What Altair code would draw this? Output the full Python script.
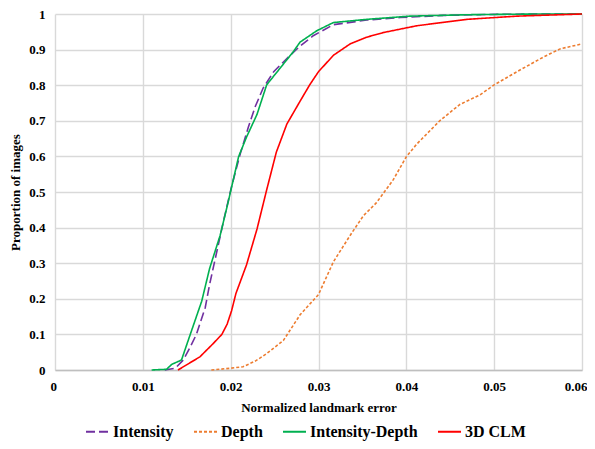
import altair as alt
import pandas as pd

series_names = ["Intensity", "Depth", "Intensity-Depth", "3D CLM"]
series_colors = ["#7030A0", "#ED7D31", "#00B050", "#FF0000"]

intensity_x = [0.0125, 0.0137, 0.0146, 0.0153, 0.0161, 0.0171, 0.0176, 0.0184, 0.0192, 0.0201,
               0.0211, 0.0220, 0.0228, 0.0237, 0.0249, 0.0264, 0.0279, 0.0294, 0.0317, 0.0355,
               0.0393, 0.0442, 0.0500, 0.0550, 0.0600]
intensity_y = [0.0, 0.005, 0.028, 0.06, 0.10, 0.175, 0.24, 0.33, 0.42, 0.515,
               0.608, 0.681, 0.74, 0.792, 0.838, 0.875, 0.91, 0.939, 0.97, 0.983,
               0.99, 0.996, 0.999, 1.0, 1.0]

depth_x = [0.0178, 0.0200, 0.0214, 0.0228, 0.0241, 0.0260, 0.0279, 0.0300, 0.0317, 0.0336,
           0.0351, 0.0366, 0.0385, 0.0400, 0.0412, 0.0438, 0.0461, 0.0484, 0.0500, 0.0526,
           0.0556, 0.0575, 0.0600]
depth_y = [0.0, 0.005, 0.009, 0.025, 0.046, 0.083, 0.155, 0.212, 0.304, 0.378,
           0.433, 0.47, 0.534, 0.599, 0.635, 0.70, 0.746, 0.773, 0.801, 0.838,
           0.879, 0.902, 0.916]

intdepth_x = [0.0110, 0.0127, 0.0133, 0.0144, 0.0154, 0.0167, 0.0176, 0.0188, 0.0197, 0.0209,
              0.0218, 0.0230, 0.0241, 0.0256, 0.0271, 0.0279, 0.0298, 0.0317, 0.0355, 0.0404,
              0.0470, 0.0550, 0.0600]
intdepth_y = [0.0, 0.002, 0.016, 0.028, 0.10, 0.193, 0.285, 0.378, 0.47, 0.599,
              0.654, 0.718, 0.801, 0.847, 0.893, 0.921, 0.953, 0.976, 0.985, 0.994,
              0.998, 1.0, 1.0]

clm_x = [0.0140, 0.0165, 0.0180, 0.0190, 0.0196, 0.0201, 0.0206, 0.0218, 0.0230, 0.0241,
         0.0252, 0.0264, 0.0279, 0.0290, 0.0300, 0.0317, 0.0336, 0.0355, 0.0374, 0.0412,
         0.0469, 0.0526, 0.0600]
clm_y = [0.0, 0.037, 0.074, 0.100, 0.129, 0.166, 0.215, 0.295, 0.396, 0.506,
         0.612, 0.691, 0.755, 0.801, 0.838, 0.884, 0.916, 0.935, 0.948, 0.967,
         0.985, 0.994, 1.0]

x_ticks = [0, 0.01, 0.02, 0.03, 0.04, 0.05, 0.06]
y_ticks = [0, 0.1, 0.2, 0.3, 0.4, 0.5, 0.6, 0.7, 0.8, 0.9, 1.0]

rows = []
for name, xs, ys in [("Intensity", intensity_x, intensity_y),
                     ("Depth", depth_x, depth_y),
                     ("Intensity-Depth", intdepth_x, intdepth_y),
                     ("3D CLM", clm_x, clm_y)]:
    for i, (a, b) in enumerate(zip(xs, ys)):
        rows.append({"series": name, "x": a, "y": b, "i": i})
df = pd.DataFrame(rows)

FONT = "Liberation Serif"

legend = alt.Legend(
    title=None, orient="none", legendX=30, legendY=405, direction="horizontal",
    symbolType="stroke", symbolSize=529, symbolStrokeWidth=2,
    labelFont=FONT, labelFontSize=16, labelFontWeight="bold", labelColor="#000000",
    labelOffset=3, columnPadding=16, padding=0,
)

chart = alt.Chart(df).mark_line(strokeWidth=1.6).encode(
    x=alt.X("x:Q", scale=alt.Scale(domain=[0, 0.06], nice=False),
            axis=alt.Axis(values=x_ticks, format="~g", title="Normalized landmark error",
                          grid=True, gridColor="#d9d9d9", gridWidth=1.4,
                          domainColor="#bfbfbf", domainWidth=1.4,
                          labelFlush=True, labelFlushOffset=5,
                          ticks=False, tickSize=0, labelPadding=10,
                          labelFont=FONT, labelFontSize=13, labelFontWeight="bold",
                          labelColor="#000000", titleFont=FONT, titleFontSize=13,
                          titleFontWeight="bold", titleColor="#000000", titlePadding=8)),
    y=alt.Y("y:Q", scale=alt.Scale(domain=[0, 1], nice=False),
            axis=alt.Axis(values=y_ticks, format="~g", title="Proportion of images",
                          grid=True, gridColor="#d9d9d9", gridWidth=1.4, labelFlush=False,
                          domain=False, ticks=False, tickSize=0, labelPadding=10,
                          labelFont=FONT, labelFontSize=13, labelFontWeight="bold",
                          labelColor="#000000", titleFont=FONT, titleFontSize=13,
                          titleFontWeight="bold", titleColor="#000000", titlePadding=6)),
    color=alt.Color("series:N", scale=alt.Scale(domain=series_names, range=series_colors),
                    legend=legend),
    strokeDash=alt.StrokeDash("series:N",
                              scale=alt.Scale(domain=series_names,
                                              range=[[9, 4], [3, 2], [1, 0], [1, 0]]),
                              legend=legend),
    order="i:Q",
).properties(
    width=527, height=356,
    autosize=alt.AutoSizeParams(type="none"),
    padding={"left": 47, "top": 6, "right": 5, "bottom": 71},
).configure_view(stroke=None)

chart.save("out.html", embed_options={"renderer": "svg", "actions": False})
